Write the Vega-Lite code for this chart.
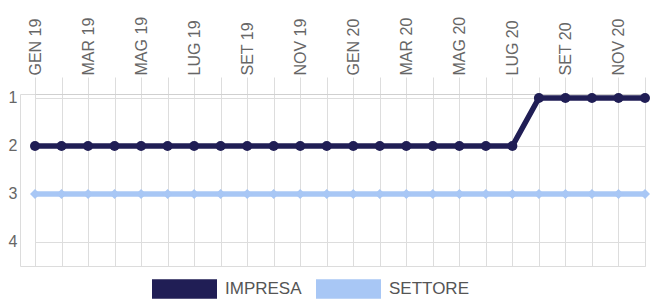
{
  "$schema": "https://vega.github.io/schema/vega-lite/v6.json",
  "width": 625,
  "height": 172,
  "autosize": "none",
  "padding": {"left": 20, "top": 94, "right": 5, "bottom": 34},
  "config": {
    "view": {"stroke": "#dcdcdc"},
    "font": "Liberation Sans",
    "axis": {"labelFont": "Liberation Sans", "labelColor": "#666666", "labelFontSize": 16, "gridColor": "#dddddd", "domainColor": "#d0d0d0", "tickColor": "#dddddd"},
    "legend": {"labelFont": "Liberation Sans", "labelColor": "#555555", "labelFontSize": 17}
  },
  "data": {
    "values": [
      {"mese": "GEN 19", "serie": "IMPRESA", "valore": 2},
      {"mese": "FEB 19", "serie": "IMPRESA", "valore": 2},
      {"mese": "MAR 19", "serie": "IMPRESA", "valore": 2},
      {"mese": "APR 19", "serie": "IMPRESA", "valore": 2},
      {"mese": "MAG 19", "serie": "IMPRESA", "valore": 2},
      {"mese": "GIU 19", "serie": "IMPRESA", "valore": 2},
      {"mese": "LUG 19", "serie": "IMPRESA", "valore": 2},
      {"mese": "AGO 19", "serie": "IMPRESA", "valore": 2},
      {"mese": "SET 19", "serie": "IMPRESA", "valore": 2},
      {"mese": "OTT 19", "serie": "IMPRESA", "valore": 2},
      {"mese": "NOV 19", "serie": "IMPRESA", "valore": 2},
      {"mese": "DIC 19", "serie": "IMPRESA", "valore": 2},
      {"mese": "GEN 20", "serie": "IMPRESA", "valore": 2},
      {"mese": "FEB 20", "serie": "IMPRESA", "valore": 2},
      {"mese": "MAR 20", "serie": "IMPRESA", "valore": 2},
      {"mese": "APR 20", "serie": "IMPRESA", "valore": 2},
      {"mese": "MAG 20", "serie": "IMPRESA", "valore": 2},
      {"mese": "GIU 20", "serie": "IMPRESA", "valore": 2},
      {"mese": "LUG 20", "serie": "IMPRESA", "valore": 2},
      {"mese": "AGO 20", "serie": "IMPRESA", "valore": 1},
      {"mese": "SET 20", "serie": "IMPRESA", "valore": 1},
      {"mese": "OTT 20", "serie": "IMPRESA", "valore": 1},
      {"mese": "NOV 20", "serie": "IMPRESA", "valore": 1},
      {"mese": "DIC 20", "serie": "IMPRESA", "valore": 1},
      {"mese": "GEN 19", "serie": "SETTORE", "valore": 3},
      {"mese": "FEB 19", "serie": "SETTORE", "valore": 3},
      {"mese": "MAR 19", "serie": "SETTORE", "valore": 3},
      {"mese": "APR 19", "serie": "SETTORE", "valore": 3},
      {"mese": "MAG 19", "serie": "SETTORE", "valore": 3},
      {"mese": "GIU 19", "serie": "SETTORE", "valore": 3},
      {"mese": "LUG 19", "serie": "SETTORE", "valore": 3},
      {"mese": "AGO 19", "serie": "SETTORE", "valore": 3},
      {"mese": "SET 19", "serie": "SETTORE", "valore": 3},
      {"mese": "OTT 19", "serie": "SETTORE", "valore": 3},
      {"mese": "NOV 19", "serie": "SETTORE", "valore": 3},
      {"mese": "DIC 19", "serie": "SETTORE", "valore": 3},
      {"mese": "GEN 20", "serie": "SETTORE", "valore": 3},
      {"mese": "FEB 20", "serie": "SETTORE", "valore": 3},
      {"mese": "MAR 20", "serie": "SETTORE", "valore": 3},
      {"mese": "APR 20", "serie": "SETTORE", "valore": 3},
      {"mese": "MAG 20", "serie": "SETTORE", "valore": 3},
      {"mese": "GIU 20", "serie": "SETTORE", "valore": 3},
      {"mese": "LUG 20", "serie": "SETTORE", "valore": 3},
      {"mese": "AGO 20", "serie": "SETTORE", "valore": 3},
      {"mese": "SET 20", "serie": "SETTORE", "valore": 3},
      {"mese": "OTT 20", "serie": "SETTORE", "valore": 3},
      {"mese": "NOV 20", "serie": "SETTORE", "valore": 3},
      {"mese": "DIC 20", "serie": "SETTORE", "valore": 3}
    ]
  },
  "encoding": {
    "x": {
      "field": "mese", "type": "ordinal", "sort": null,
      "scale": {"type": "point", "range": [15, 625], "padding": 0},
      "axis": {"orient": "top", "title": null, "labelAngle": -90, "labelAlign": "left", "labelBaseline": "middle", "labelPadding": 2, "tickSize": 17, "grid": true, "domain": true,
        "labelExpr": "test(/^(GEN|MAR|MAG|LUG|SET|NOV)/, datum.value) ? datum.value : ''"}
    },
    "y": {
      "field": "valore", "type": "quantitative",
      "scale": {"domain": [0.917, 4.5], "reverse": true, "nice": false, "zero": false},
      "axis": {"title": null, "values": [1, 2, 3, 4], "ticks": false, "domain": false, "labelPadding": 3, "grid": true}
    },
    "color": {
      "field": "serie", "type": "nominal",
      "scale": {"domain": ["IMPRESA", "SETTORE"], "range": ["#201e55", "#a8c7f5"]},
      "legend": {"title": null, "orient": "none", "direction": "horizontal", "legendX": 132, "legendY": 162,
        "symbolType": "M-1,-0.3H1V0.3H-1Z", "symbolSize": 4225, "symbolStrokeWidth": 0, "symbolOpacity": 1,
        "labelOffset": 8, "columnPadding": 14,
        "encode": {"symbols": {"update": {"fill": {"scale": "color", "field": "value"}, "stroke": {"value": "transparent"}, "opacity": {"value": 1}}}}}
    }
  },
  "layer": [
    {
      "mark": {"type": "line", "strokeWidth": 5.5}
    },
    {
      "mark": {"type": "point", "filled": true, "opacity": 1, "size": 100},
      "encoding": {
        "shape": {"condition": {"test": "datum.serie === 'SETTORE'", "value": "diamond"}, "value": "circle"}
      }
    }
  ]
}
